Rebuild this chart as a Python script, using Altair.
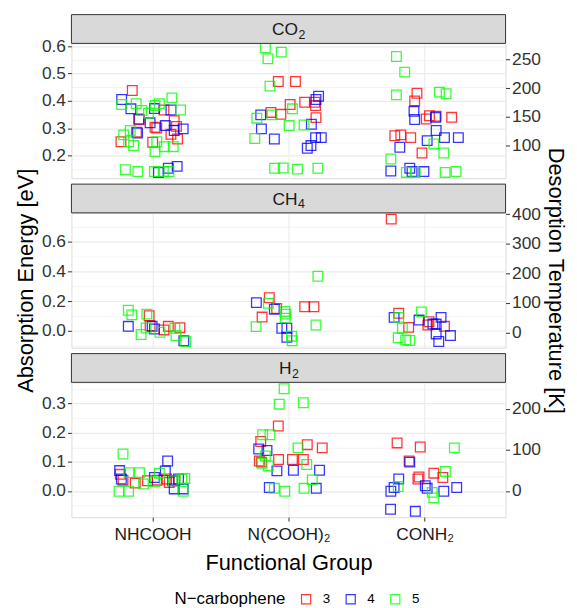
import altair as alt
import pandas as pd

groups = ["NHCOOH", "N(COOH)₂", "CONH₂"]
carbophene = ["3", "4", "5"]
colors = ["#FF0000", "#0000FF", "#00FF00"]
gas_base = ["CO", "CH", "H"]
gas_sub = ["2", "4", "2"]

# --- adsorption energies [eV] and horizontal jitter, keyed by (group index, N-carbophene)
co2_energy = {
    (1, "3"): [0.438, 0.331, 0.286, 0.251, 0.249, 0.304, 0.367, 0.328, 0.261, 0.278, 0.307, 0.301],
    (1, "4"): [0.405, 0.371, 0.334, 0.283, 0.320, 0.372, 0.310, 0.292, 0.298, 0.367, 0.154, 0.161, 0.139],
    (1, "5"): [0.387, 0.390, 0.365, 0.355, 0.383, 0.390, 0.411, 0.367, 0.292, 0.276, 0.251, 0.237,
               0.215, 0.233, 0.233, 0.251, 0.149, 0.142, 0.142, 0.142, 0.142],
    (2, "3"): [0.471, 0.471, 0.358, 0.351, 0.387, 0.395, 0.395, 0.383, 0.339],
    (2, "4"): [0.349, 0.298, 0.261, 0.315, 0.417, 0.405, 0.266, 0.266, 0.227, 0.237],
    (2, "5"): [0.594, 0.554, 0.578, 0.454, 0.337, 0.349, 0.371, 0.310, 0.312, 0.263, 0.154, 0.155, 0.151, 0.154],
    (3, "3"): [0.428, 0.400, 0.346, 0.334, 0.344, 0.340, 0.273, 0.276, 0.266, 0.210],
    (3, "4"): [0.362, 0.332, 0.340, 0.292, 0.255, 0.266, 0.266, 0.231, 0.144, 0.154, 0.142, 0.142],
    (3, "5"): [0.562, 0.505, 0.422, 0.432, 0.426, 0.243, 0.210, 0.188, 0.139, 0.139, 0.139, 0.142],
}
co2_jitter = {
    (1, "3"): [-0.148, -0.097, -0.117, -0.231, 0.002, 0.019, 0.085, 0.160, 0.185, 0.136, 0.177, 0.032],
    (1, "4"): [-0.226, -0.158, -0.100, -0.109, -0.017, 0.015, 0.095, 0.160, 0.226, 0.136, 0.117, 0.182, 0.044],
    (1, "5"): [-0.226, -0.119, -0.078, -0.029, 0.019, 0.051, 0.143, 0.207, -0.163, -0.211, -0.175, -0.138,
               0.019, 0.087, 0.153, 0.032, -0.199, -0.107, 0.015, 0.080, 0.121],
    (2, "3"): [-0.075, 0.051, -0.129, -0.056, 0.012, 0.119, 0.194, 0.199, 0.202],
    (2, "4"): [-0.204, -0.199, -0.104, 0.168, 0.221, 0.202, 0.199, 0.241, 0.138, 0.165],
    (2, "5"): [-0.170, -0.151, -0.053, -0.136, -0.233, -0.121, 0.029, 0.005, 0.114, -0.248, -0.102, -0.039, 0.066, 0.216],
    (3, "3"): [-0.056, -0.073, 0.036, 0.012, 0.085, 0.199, -0.219, -0.175, -0.102, -0.019],
    (3, "4"): [-0.078, -0.073, 0.080, 0.085, 0.019, 0.146, 0.248, -0.182, -0.248, -0.109, -0.005, -0.092],
    (3, "5"): [-0.207, -0.146, -0.207, 0.109, 0.158, 0.068, 0.141, -0.248, -0.134, -0.068, 0.151, 0.231],
}

ch4_energy = {
    (1, "3"): [0.102, 0.035, 0.007, 0.031, 0.022],
    (1, "4"): [0.031, 0.031, 0.013, -0.066],
    (1, "5"): [0.139, 0.108, 0.113, 0.020, -0.024, -0.009, 0.018, -0.031, -0.071],
    (2, "3"): [0.223, 0.150, 0.093, 0.162, 0.162],
    (2, "4"): [0.190, 0.146, 0.018, 0.018, -0.042],
    (2, "5"): [0.186, 0.131, 0.113, 0.086, 0.029, -0.035, -0.066, 0.367, 0.040],
    (3, "3"): [0.750, 0.119, 0.024, 0.062, 0.040, 0.031],
    (3, "4"): [0.091, 0.073, 0.046, 0.091, -0.020, -0.071, -0.031, 0.046],
    (3, "5"): [0.091, 0.128, 0.018, -0.046, -0.060, -0.064],
}
ch4_jitter = {
    (1, "3"): [-0.024, -0.017, 0.085, 0.117, 0.202],
    (1, "4"): [-0.177, -0.002, 0.015, 0.231],
    (1, "5"): [-0.177, -0.151, -0.041, -0.046, -0.083, 0.056, 0.165, 0.173, 0.245],
    (2, "3"): [-0.141, -0.087, -0.194, 0.119, 0.187],
    (2, "4"): [-0.236, -0.104, -0.049, -0.012, -0.012],
    (2, "5"): [-0.148, -0.027, -0.019, -0.024, -0.238, 0.022, 0.027, 0.216, 0.202],
    (3, "3"): [-0.245, -0.190, -0.117, 0.032, 0.024, 0.146],
    (3, "4"): [-0.224, -0.041, 0.061, 0.121, 0.085, 0.104, 0.190, 0.085],
    (3, "5"): [-0.190, -0.024, -0.163, -0.194, -0.139, -0.109],
}

h2_energy = {
    (1, "3"): [0.057, 0.037, 0.027, 0.035, 0.041, 0.029, 0.035, 0.037],
    (1, "4"): [0.070, 0.041, 0.046, 0.069, 0.103, 0.035, 0.007, 0.007, 0.041],
    (1, "5"): [0.127, -0.001, -0.001, 0.063, 0.063, 0.024, 0.061, 0.032, 0.041, 0.043, 0.035, -0.001],
    (2, "3"): [0.223, 0.170, 0.159, 0.148, 0.108, 0.108, 0.108, 0.103, 0.099],
    (2, "4"): [0.144, 0.139, 0.069, 0.071, 0.071, 0.012, 0.009],
    (2, "5"): [0.351, 0.298, 0.303, 0.193, 0.193, 0.120, 0.095, 0.086, 0.148, 0.091, 0.038, 0.009, 0.009, -0.001],
    (3, "3"): [0.165, 0.151, 0.103, 0.048, 0.041, 0.061, 0.046],
    (3, "4"): [0.099, 0.041, 0.012, -0.001, 0.018, 0.009, -0.001, 0.012, -0.063, -0.070],
    (3, "5"): [0.148, 0.067, 0.015, -0.005, -0.024],
}
h2_jitter = {
    (1, "3"): [-0.236, -0.216, -0.126, -0.036, 0.104, 0.124, 0.165, 0.036],
    (1, "4"): [-0.241, -0.228, 0.015, 0.095, 0.112, 0.148, 0.160, 0.226, 0.192],
    (1, "5"): [-0.216, -0.245, -0.175, -0.173, -0.095, -0.066, 0.051, 0.019, 0.216, 0.238, 0.153, 0.226],
    (2, "3"): [-0.075, -0.204, 0.138, 0.248, -0.073, 0.029, 0.109, -0.214, -0.199],
    (2, "4"): [-0.219, -0.158, -0.085, 0.036, 0.228, -0.141, 0.204],
    (2, "5"): [-0.032, -0.068, 0.109, -0.190, -0.136, -0.170, -0.194, -0.148, 0.070, 0.134, 0.175, 0.114, -0.104, -0.027],
    (3, "3"): [-0.202, -0.032, -0.114, -0.041, -0.049, 0.068, 0.134],
    (3, "4"): [-0.109, -0.190, -0.224, -0.248, 0.005, 0.019, 0.141, 0.236, -0.250, -0.068],
    (3, "5"): [0.219, 0.153, -0.194, 0.056, 0.068],
}

# axis settings per gas: energy domain, major step, temperature ticks, E = a*K + b
co2_axis = dict(domain=[0.118, 0.610], majors=[0.2, 0.3, 0.4, 0.5, 0.6], minors=[0.15, 0.25, 0.35, 0.45, 0.55],
                step=0.1, kticks=[100, 150, 200, 250], a=0.002096, b=0.0270)
ch4_axis = dict(domain=[-0.112, 0.792], majors=[0.0, 0.2, 0.4, 0.6], minors=[-0.1, 0.1, 0.3, 0.5, 0.7],
                step=0.2, kticks=[0, 100, 200, 300, 400], a=0.001985, b=-0.010)
h2_axis = dict(domain=[-0.090, 0.373], majors=[0.0, 0.1, 0.2, 0.3], minors=[-0.05, 0.05, 0.15, 0.25, 0.35],
               step=0.1, kticks=[0, 100, 200], a=0.00141, b=0.0)

FONT = "Liberation Sans"
W = 438
STRIP_H = 29
PLOT_H = 136
GAP = 6
XDOM = [0.405, 3.595]
GRID = "#EBEBEB"
DARK = "#333333"
STRIP_SHIFT = [9.5, 9.0, 3.0]


def to_frame(energy, jitter):
    rows = []
    for key, vals in energy.items():
        gi, n = key
        for e, j in zip(vals, jitter[key]):
            rows.append({"gi": gi, "n": n, "energy": e, "jitter": j})
    return pd.DataFrame(rows)


xlabel_expr = " : ".join(
    [f"datum.value == {i + 1} ? '{g}'" for i, g in enumerate(groups[:-1])] + [f"'{groups[-1]}'"]
)


def strip_layers(i):
    d = pd.DataFrame({"t": [gas_base[i]], "s": [gas_sub[i]]})
    rect = alt.Chart(d).mark_rect(fill="#D9D9D9", stroke=DARK, strokeWidth=1).encode(
        x=alt.value(0), x2=alt.value(W), y=alt.value(-STRIP_H), y2=alt.value(0)
    )
    cx = W / 2 + STRIP_SHIFT[i]
    txt = alt.Chart(d).mark_text(font=FONT, fontSize=17.5, color="#1A1A1A", baseline="alphabetic",
                                 align="right").encode(
        x=alt.value(cx), y=alt.value(-STRIP_H / 2 + 6.5), text="t:N"
    )
    sub = alt.Chart(d).mark_text(font=FONT, fontSize=12.5, color="#1A1A1A", baseline="alphabetic",
                                 align="left").encode(
        x=alt.value(cx + 0.5), y=alt.value(-STRIP_H / 2 + 10), text="s:N"
    )
    return [rect, txt, sub]


def panel(i, df, ax, bottom, middle):
    step = ax["step"]
    test = f"abs(datum.value / {step} - round(datum.value / {step})) < 0.001"
    xaxis = alt.Axis(
        values=[1, 2, 3], grid=True, gridColor=GRID, gridWidth=1.1, domain=False,
        labels=bottom, ticks=bottom, tickColor=DARK, tickSize=4, labelExpr=xlabel_expr,
        labelFontSize=17.5, labelColor="#1A1A1A", labelPadding=5,
        title="Functional Group" if bottom else None, titleFontSize=22, titleFontWeight="normal",
        titlePadding=9, titleColor="#000000",
    )
    xenc = alt.X("xpos:Q", scale=alt.Scale(domain=XDOM, nice=False, zero=False), axis=xaxis)
    yscale = alt.Scale(domain=ax["domain"], nice=False, zero=False)
    left = alt.Axis(
        values=sorted(ax["majors"] + ax["minors"]), grid=True, gridColor=GRID,
        gridWidth={"condition": {"test": test, "value": 1.1}, "value": 0.55},
        tickOpacity={"condition": {"test": test, "value": 1}, "value": 0},
        labelExpr=f"{test} ? format(datum.value, '.1f') : ''",
        domain=False, tickColor=DARK, tickSize=4, labelFontSize=17.5, labelColor="#333333",
        labelPadding=2, title="Absorption Energy [eV]" if middle else None,
        titleFontSize=22, titleFontWeight="normal", titleColor="#000000", titlePadding=4,
    )
    kvals = [ax["a"] * k + ax["b"] for k in ax["kticks"]]
    right = alt.Axis(
        orient="right", values=kvals, grid=False, domain=False, tickColor=DARK, tickSize=4,
        labelExpr=f"format(round((datum.value - ({ax['b']})) / {ax['a']}), 'd')",
        labelFontSize=17.5, labelColor="#333333", labelPadding=2,
        title="Desorption Temperature [K]" if middle else None,
        titleFontSize=22, titleFontWeight="normal", titleColor="#000000", titlePadding=3,
    )
    base = alt.Chart(df).transform_calculate(xpos="datum.gi + datum.jitter")
    pts = base.mark_point(shape="square", filled=False, size=95, strokeWidth=1.3, opacity=0.78).encode(
        x=xenc,
        y=alt.Y("energy:Q", scale=yscale, axis=left),
        color=alt.Color(
            "n:N", scale=alt.Scale(domain=carbophene, range=colors),
            legend=alt.Legend(title="N−carbophene"),
        ),
    )
    sec = base.mark_point(opacity=0).encode(
        x=xenc,
        y=alt.Y("energy:Q", scale=yscale, axis=right),
    )
    return alt.layer(pts, sec, *strip_layers(i)).resolve_scale(y="independent").properties(
        width=W, height=PLOT_H
    )


frames = [to_frame(co2_energy, co2_jitter), to_frame(ch4_energy, ch4_jitter), to_frame(h2_energy, h2_jitter)]
axes = [co2_axis, ch4_axis, h2_axis]

panels = [panel(i, frames[i], axes[i], bottom=(i == 2), middle=(i == 1)) for i in range(3)]

chart = alt.vconcat(*panels, spacing=GAP + STRIP_H, bounds="flush").properties(
    padding={"left": 6, "top": 3, "right": 2, "bottom": 0}
).configure_view(
    stroke=DARK, strokeWidth=1
).configure(
    font=FONT
).configure_legend(
    orient="none", legendX=104, legendY=554, direction="horizontal", titleOrient="left",
    titleFontSize=17, titleFontWeight="normal", titleColor="#000000", titlePadding=13,
    labelFontSize=13.5, labelColor="#000000", labelOffset=10, columnPadding=12,
    symbolType="square", symbolSize=85, symbolStrokeWidth=1.2, symbolFillColor="transparent",
)

chart.save("out.html", embed_options={"renderer": "svg", "actions": False})
